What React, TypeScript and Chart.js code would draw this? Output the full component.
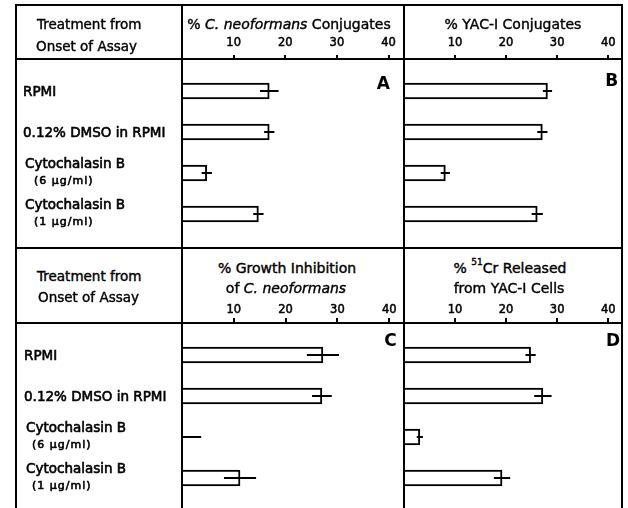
import React, { useEffect, useRef } from 'react';
import { Chart, registerables } from 'chart.js';

Chart.register(...registerables);

// ---- data ----
const CATEGORIES = ['RPMI', '0.12% DMSO in RPMI', 'Cytochalasin B', 'Cytochalasin B'];
const DOSES = ['', '', '(6 µg/ml)', '(1 µg/ml)'];
const X_TICKS = [10, 20, 30, 40];

const CN_CONJUGATES = [16.9, 16.9, 4.8, 14.8];
const CN_CONJUGATES_ERR = [1.8, 1.0, 1.0, 1.0];
const YAC_CONJUGATES = [28.1, 27.1, 8.1, 26.1];
const YAC_CONJUGATES_ERR = [0.9, 1.0, 0.9, 1.1];
const CN_GROWTH_INHIBITION = [27.2, 27.0, 0, 11.2];
const CN_GROWTH_INHIBITION_ERR = [3.1, 1.9, 3.7, 3.1];
const CR_RELEASED = [24.8, 27.2, 3.1, 19.2];
const CR_RELEASED_ERR = [1.0, 1.7, 0.6, 1.6];

const FONT = '"DejaVu Sans"';

type PanelProps = {
  left: number;
  top: number;
  width: number;
  height: number;
  values: number[];
  errors: number[];
  xMax: number;
  padLeft: number;
  labels: boolean;
  labelX: number;
  doseX: number;
  tickLength: number;
  tickPadding: number;
};

function Panel(p: PanelProps) {
  const ref = useRef<HTMLCanvasElement>(null);
  useEffect(() => {
    const canvas = ref.current!;
    const axisH = 30;
    const catPx = 41;
    const yMin = 0.22;
    const yMax = yMin + (p.height - axisH) / catPx;

    const errorBars = {
      id: 'errorBars',
      afterDatasetsDraw(chart: any) {
        const { ctx, chartArea, scales } = chart;
        const meta = chart.getDatasetMeta(0);
        ctx.save();
        ctx.strokeStyle = '#000';
        ctx.lineWidth = 2;
        meta.data.forEach((bar: any, i: number) => {
          const v = p.values[i];
          const e = p.errors[i];
          const x0 = Math.max(scales.x.getPixelForValue(v - e), chartArea.left);
          const x1 = scales.x.getPixelForValue(v + e);
          ctx.beginPath();
          ctx.moveTo(x0, bar.y);
          ctx.lineTo(x1, bar.y);
          ctx.stroke();
        });
        ctx.restore();
      },
    };

    const categoryLabels = {
      id: 'categoryLabels',
      afterDraw(chart: any) {
        if (!p.labels) return;
        const { ctx, scales } = chart;
        ctx.save();
        ctx.fillStyle = '#000';
        ctx.strokeStyle = '#000';
        ctx.lineWidth = 0.6;
        ctx.textAlign = 'left';
        ctx.textBaseline = 'middle';
        const draw = (t: string, x: number, y: number) => {
          ctx.fillText(t, x, y);
          ctx.strokeText(t, x, y);
        };
        CATEGORIES.forEach((c, i) => {
          const y = scales.y.getPixelForValue(i + 1);
          if (DOSES[i]) {
            ctx.font = `13.5px ${FONT}`;
            draw(c, p.labelX + 2, y - 8);
            ctx.font = `11px ${FONT}`;
            (ctx as any).letterSpacing = '1px';
            draw(DOSES[i], p.doseX, y + 8);
            (ctx as any).letterSpacing = '0px';
          } else {
            ctx.font = `13.5px ${FONT}`;
            draw(c, p.labelX, y + 2);
          }
        });
        ctx.restore();
      },
    };

    const chart = new Chart(canvas, {
      type: 'bar',
      data: {
        datasets: [
          {
            data: p.values.map((v, i) => ({ x: v, y: i + 1 })) as any,
            backgroundColor: '#ffffff',
            borderColor: '#000000',
            borderWidth: 2,
            borderSkipped: 'start',
            barThickness: 16,
          },
        ],
      },
      options: {
        indexAxis: 'y',
        responsive: false,
        animation: false,
        layout: { padding: { left: p.padLeft, right: 0, top: 0, bottom: 0 } },
        plugins: {
          legend: { display: false },
          tooltip: { enabled: false },
          title: { display: false },
        },
        scales: {
          x: {
            type: 'linear',
            position: 'top',
            min: 0,
            max: p.xMax,
            offset: false,
            afterBuildTicks: (s: any) => {
              s.ticks = X_TICKS.map((v) => ({ value: v }));
            },
            afterFit: (s: any) => {
              s.height = axisH;
            },
            ticks: {
              color: '#000',
              font: { family: FONT, size: 11.5 },
              padding: p.tickPadding,
              maxRotation: 0,
              autoSkip: false,
              textStrokeColor: '#000',
              textStrokeWidth: 0.5,
            },
            grid: {
              display: true,
              offset: false,
              drawOnChartArea: false,
              drawTicks: true,
              tickLength: p.tickLength,
              tickWidth: 2,
              tickColor: '#000',
              lineWidth: 2,
              color: '#000',
            },
            border: { display: true, color: '#000', width: 2 },
          },
          y: {
            type: 'linear',
            min: yMin,
            max: yMax,
            reverse: true,
            offset: false,
            display: false,
            grid: { offset: false },
          },
        },
      } as any,
      plugins: [errorBars, categoryLabels],
    });
    return () => chart.destroy();
  }, []);
  return (
    <canvas
      ref={ref}
      width={p.width}
      height={p.height}
      style={{ position: 'absolute', left: p.left, top: p.top, width: p.width, height: p.height }}
    />
  );
}

function T(props: { x: number; y: number; size?: number; bold?: boolean; center?: boolean; children: React.ReactNode }) {
  return (
    <div
      style={{
        position: 'absolute',
        left: props.x,
        top: props.y,
        transform: props.center ? 'translate(-50%, -50%)' : 'translate(0, -50%)',
        fontSize: props.size ?? 14,
        fontWeight: props.bold ? 'bold' : 'normal',
        lineHeight: 1,
        whiteSpace: 'nowrap',
        WebkitTextStroke: props.bold ? undefined : '0.4px #000',
      }}
    >
      {props.children}
    </div>
  );
}

function Line(props: { x: number; y: number; w: number; h: number }) {
  return (
    <div
      style={{ position: 'absolute', left: props.x, top: props.y, width: props.w, height: props.h, background: '#000', zIndex: 2 }}
    />
  );
}

export default function App() {
  return (
    <div
      style={{
        position: 'absolute',
        left: 0,
        top: 0,
        width: 628,
        height: 508,
        background: '#fff',
        overflow: 'hidden',
        fontFamily: FONT,
        color: '#000',
      }}
    >
      <Panel left={15} top={29} width={389} height={219} values={CN_CONJUGATES} errors={CN_CONJUGATES_ERR} xMax={43} padLeft={167} labels labelX={8} doseX={19} tickLength={4} tickPadding={5} />
      <Panel left={404} top={29} width={218} height={219} values={YAC_CONJUGATES} errors={YAC_CONJUGATES_ERR} xMax={42.7} padLeft={0} labels={false} labelX={0} doseX={0} tickLength={4} tickPadding={5} />
      <Panel left={15} top={293} width={389} height={215} values={CN_GROWTH_INHIBITION} errors={CN_GROWTH_INHIBITION_ERR} xMax={42.85} padLeft={167} labels labelX={9} doseX={17} tickLength={5} tickPadding={1} />
      <Panel left={404} top={293} width={218} height={215} values={CR_RELEASED} errors={CR_RELEASED_ERR} xMax={42.7} padLeft={0} labels={false} labelX={0} doseX={0} tickLength={5} tickPadding={1} />

      {/* frame */}
      <Line x={15} y={4} w={608} h={2} />
      <Line x={15} y={4} w={2} h={504} />
      <Line x={181} y={4} w={2} h={504} />
      <Line x={403} y={4} w={2} h={504} />
      <Line x={621} y={4} w={2} h={504} />
      <Line x={15} y={58} w={608} h={2} />
      <Line x={15} y={247} w={608} h={2} />
      <Line x={15} y={322} w={608} h={2} />

      {/* headers */}
      <T x={37} y={25} size={13.5}>Treatment from</T>
      <T x={36} y={46.7} size={13.5}>Onset of Assay</T>
      <T x={289} y={23.5} center>
        % <i>C. neoformans</i> Conjugates
      </T>
      <T x={513} y={24} center>% YAC-I Conjugates</T>

      <T x={37} y={276.6} size={13.5}>Treatment from</T>
      <T x={38} y={298.3} size={13.5}>Onset of Assay</T>
      <T x={287} y={268} center>% Growth Inhibition</T>
      <T x={286} y={288.3} center>
        of <i>C. neoformans</i>
      </T>
      <T x={510} y={268} center>
        % <sup style={{ fontSize: 9, verticalAlign: 'top', position: 'relative', top: -3 }}>51</sup>Cr Released
      </T>
      <T x={509} y={288.3} center>from YAC-I Cells</T>

      {/* panel letters */}
      <T x={383.3} y={83.3} size={17} bold center>A</T>
      <T x={611.7} y={79.7} size={17} bold center>B</T>
      <T x={390.5} y={339.5} size={17} bold center>C</T>
      <T x={613} y={339.5} size={17} bold center>D</T>
    </div>
  );
}
